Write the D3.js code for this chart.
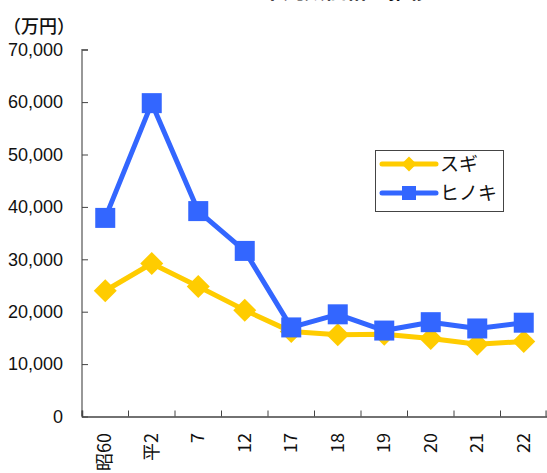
<!DOCTYPE html>
<html>
<head>
<meta charset="utf-8">
<script src="https://cdn.jsdelivr.net/npm/d3@7"></script>
<style>
  body { margin: 0; background: #fff; }
  svg { display: block; }
  text { font-family: "Liberation Sans", Arial, sans-serif; fill: #111; }
  .jp { font-family: "Noto Sans CJK JP", sans-serif; }
</style>
</head>
<body>
<div id="chart"></div>
<script>
const WIDTH = 547;
const HEIGHT = 473;

// datos
const years = ["昭60", "平2", "7", "12", "17", "18", "19", "20", "21", "22"];
const sugi = [24000, 29200, 24800, 20300, 16200, 15600, 15700, 14900, 13800, 14300];
const hinoki = [37900, 59800, 39200, 31600, 17000, 19500, 16400, 18000, 16800, 17900];
const yTicks = [0, 10000, 20000, 30000, 40000, 50000, 60000, 70000];

const series = [
    { name: "スギ", values: sugi, color: "#FFCC00", marker: "diamond" },
    { name: "ヒノキ", values: hinoki, color: "#3366FF", marker: "square" }
];

const svg = d3.select("#chart")
    .append("svg")
    .attr("width", WIDTH)
    .attr("height", HEIGHT);

const x = d3.scaleBand().domain(years).range([82, 547]);
const y = d3.scaleLinear().domain([0, 70000]).range([416.5, 49.7]);

// titulo (queda casi fuera del cuadro, como en el original)
svg.append("text")
    .attr("class", "jp")
    .attr("x", 283)
    .attr("y", -2)
    .attr("text-anchor", "middle")
    .style("font-size", "21px")
    .style("font-weight", "bold")
    .text("スギ・ヒノキ中丸太価格の推移");

svg.append("text")
    .attr("class", "jp")
    .attr("x", 3)
    .attr("y", 33)
    .style("font-size", "18px")
    .style("font-weight", "500")
    .text("（万円）");

// eje y
const yAxis = svg.append("g")
    .attr("transform", "translate(82,0)")
    .call(d3.axisRight(y).tickValues(yTicks).tickSize(6).tickFormat(d3.format(",")));
yAxis.select(".domain").attr("stroke", "#777").attr("stroke-width", 1.5).attr("d", "M6,49.7H0V416.5");
yAxis.selectAll(".tick line").attr("stroke", "#444");
yAxis.selectAll(".tick text")
    .attr("x", -19)
    .attr("text-anchor", "end")
    .style("font-size", "18px")
    .style("font-family", "'Liberation Sans', Arial, sans-serif")
    .attr("fill", "#000");

// eje x
const xAxis = svg.append("g")
    .attr("transform", "translate(0,416.5)")
    .call(d3.axisTop(x).tickSize(6).tickFormat(""));
xAxis.select(".domain").attr("stroke", "#444").attr("stroke-width", 1.5);
xAxis.selectAll(".tick line")
    .attr("transform", function() { return "translate(" + (-x.bandwidth() / 2) + ",0)"; })
    .attr("stroke", "#444");
svg.append("line")
    .attr("x1", 546).attr("x2", 546)
    .attr("y1", 410.5).attr("y2", 416.5)
    .attr("stroke", "#444");

svg.selectAll(".xlabel")
    .data(years)
    .enter().append("text")
    .attr("class", "xlabel jp")
    .attr("transform", function(d) {
        return "translate(" + (x(d) + x.bandwidth() / 2 + 6) + ",433) rotate(-90)";
    })
    .attr("text-anchor", "end")
    .style("font-size", "18px")
    .attr("fill", "#000")
    .text(function(d) { return d; });

const cx = function(d, i) { return x(years[i]) + x.bandwidth() / 2; };

const line = d3.line()
    .x(function(d, i) { return x(years[i]) + x.bandwidth() / 2; })
    .y(function(d) { return y(d); });

function drawMarker(g, type, px, py, size, color) {
    if (type === "square") {
        g.append("rect")
            .attr("x", px - size / 2).attr("y", py - size / 2)
            .attr("width", size).attr("height", size)
            .attr("fill", color);
    } else {
        const r = size / 2;
        g.append("path")
            .attr("d", "M" + px + "," + (py - r) + "L" + (px + r) + "," + py + "L" + px + "," + (py + r) + "L" + (px - r) + "," + py + "Z")
            .attr("fill", color);
    }
}

series.forEach(function(s) {
    const g = svg.append("g");
    g.append("path")
        .datum(s.values)
        .attr("d", line)
        .attr("fill", "none")
        .attr("stroke", s.color)
        .attr("stroke-width", 5)
        .attr("stroke-linejoin", "round");
    s.values.forEach(function(v, i) {
        drawMarker(g, s.marker, cx(v, i), y(v), s.marker === "square" ? 20 : 23, s.color);
    });
});

// leyenda
const legend = svg.append("g");
legend.append("rect")
    .attr("x", 375.5).attr("y", 150.5)
    .attr("width", 128).attr("height", 61)
    .attr("fill", "#fff")
    .attr("stroke", "#444");

series.forEach(function(s, i) {
    const ly = 164 + i * 29;
    legend.append("line")
        .attr("x1", 382).attr("x2", 436)
        .attr("y1", ly).attr("y2", ly)
        .attr("stroke", s.color)
        .attr("stroke-width", 5)
        .attr("stroke-linecap", "round");
    drawMarker(legend, s.marker, 409, ly, s.marker === "square" ? 14 : 15, s.color);
    legend.append("text")
        .attr("class", "jp")
        .attr("x", 440)
        .attr("y", ly + 7)
        .style("font-size", "19px")
        .attr("fill", "#000")
        .text(s.name);
});
</script>
</body>
</html>
